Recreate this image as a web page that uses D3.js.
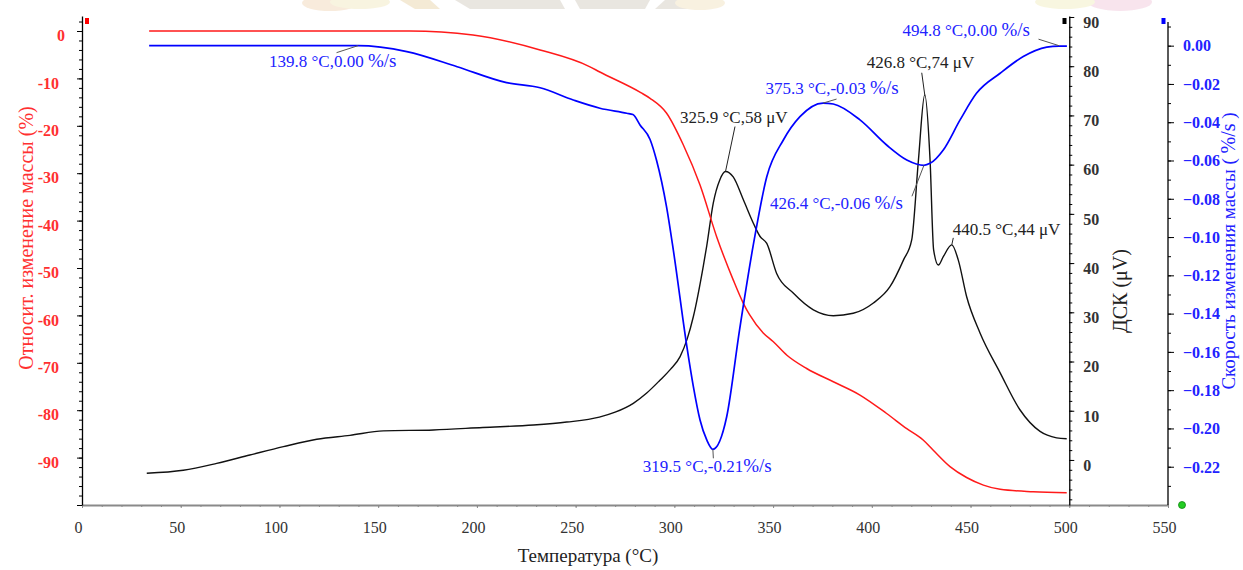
<!DOCTYPE html>
<html><head><meta charset="utf-8">
<script src="https://cdn.jsdelivr.net/npm/d3@7"></script>
<style>
body{margin:0;background:#fff;}
svg{display:block;font-family:"Liberation Serif","Times New Roman",serif;}
</style>
</head><body>
<svg id="c" width="1243" height="570"></svg>
<script>
// ---------- data ----------
const massT = [34, 100, 166, 198, 232, 257, 262, 283, 287.7, 296, 304.5, 313, 321.5, 329.8, 335, 338, 345, 350, 357, 367, 380.5, 394, 407.5, 417.7, 426, 431, 439.6, 448, 456.5, 465, 481.7, 498.7];
const massV = [0, 0, 0, -0.85, -4, -7.5, -8.6, -13, -14.2, -17.3, -24.0, -32.5, -43.5, -52.5, -57.5, -59.8, -63.7, -65.5, -68.4, -71.2, -74, -76.8, -80.7, -83.9, -86.3, -88.4, -91.9, -94.2, -95.8, -96.7, -97.2, -97.4];

const rateT = [34, 100, 139.8, 164.5, 190, 215, 232, 248.8, 262.3, 275.9, 279, 282.6, 287.7, 291, 296, 299.5, 306.3, 309.6, 313, 316.4, 319.5, 326.5, 333, 340, 346.8, 355.2, 363.6, 375.3, 380.5, 394, 407.5, 417.7, 426.4, 429.5, 436.2, 444.7, 453, 465, 476.7, 488.6, 494.8, 498.8];
const rateV = [0, 0, 0, -0.0031, -0.011, -0.0193, -0.022, -0.0284, -0.0327, -0.0353, -0.036, -0.0414, -0.049, -0.06, -0.084, -0.107, -0.157, -0.178, -0.1956, -0.206, -0.2109, -0.1939, -0.1486, -0.104, -0.0685, -0.0493, -0.0371, -0.0300, -0.0305, -0.0388, -0.0519, -0.0597, -0.0625, -0.0615, -0.0545, -0.0388, -0.0249, -0.0144, -0.0057, -0.0008, -0.0002, -0.0002];

const dscT = [32.8, 51.3, 68.2, 85, 102, 118.9, 135.7, 152.6, 178, 203, 228.6, 245.5, 262, 270, 279.2, 286, 292.7, 298, 302.9, 306.5, 309.6, 314.7, 316.4, 319.7, 323, 325.9, 329.8, 335, 340, 343.4, 346.8, 351.8, 360.2, 370.4, 380.5, 390.6, 400.8, 409.2, 416, 420.2, 423.6, 426.8, 429.5, 431.3, 433.7, 436.2, 440.5, 443.8, 448, 454.8, 465, 475, 485.2, 493.6, 498.7];
const dscV = [-2.7, -2.1, -0.7, 1.0, 2.7, 4.2, 5.0, 5.9, 6.1, 6.6, 7.1, 7.7, 8.7, 9.7, 11.5, 13.6, 16.2, 18.4, 21.0, 24.6, 29.1, 39.5, 43.5, 52.2, 56.9, 58.6, 57.5, 52.8, 48.1, 45.4, 44.0, 37.9, 33.9, 30.5, 29.3, 29.8, 31.9, 35.2, 40.6, 44.7, 60.9, 74.2, 60.9, 42.7, 39.6, 41.3, 43.7, 40.6, 33.2, 25.8, 17.7, 10.2, 5.8, 4.5, 4.3];

const xTicks = [0, 50, 100, 150, 200, 250, 300, 350, 400, 450, 500, 550];
const massTicks = [0, -10, -20, -30, -40, -50, -60, -70, -80, -90, -100];
const dscTicks = [0, 10, 20, 30, 40, 50, 60, 70, 80, 90];
const rateTicks = [0, -0.02, -0.04, -0.06, -0.08, -0.10, -0.12, -0.14, -0.16, -0.18, -0.20, -0.22];

const annLabels = ["139.8 °C,0.00 ", "325.9 °C,58 μV", "375.3 °C,-0.03 ", "426.8 °C,74 μV", "426.4 °C,-0.06 ", "494.8 °C,0.00 ", "440.5 °C,44 μV", "319.5 °C,-0.21"];
const annSeries = ["rate", "dsc", "rate", "dsc", "rate", "rate", "dsc", "rate"];
const annT = [139.8, 325.9, 375.3, 426.8, 426.4, 494.8, 440.5, 319.5];
const annV = [0.00, 58.6, -0.03, 74.2, -0.0625, 0.00, 43.7, -0.2109];

// ---------- layout ----------
const svg = d3.select("#c");
const pTop = 16, pBottom = 505, pLeft = 82, pRight = 1168;
const x = d3.scaleLinear().domain([0, 550]).range([pLeft, pRight]);
const yM = d3.scaleLinear().domain([-100, 3.165]).range([pBottom, pTop]);
const yD = d3.scaleLinear().domain([-9.15, 90.2]).range([pBottom, pTop]);
const yR = d3.scaleLinear().domain([-0.24, 0.0155]).range([pBottom, pTop]);
const xDsc = x(500);

const RED = "#ff1a1a", BLUE = "#0000ff", BLUE_T = "#2222ff", BLACK = "#111";

// faint watermark band at the top
const wm = svg.append("g").attr("opacity", 0.55);
wm.append("ellipse").attr("cx", 330).attr("cy", 3).attr("rx", 28).attr("ry", 8).attr("fill", "#f3dcc0");
wm.append("ellipse").attr("cx", 360).attr("cy", 2).attr("rx", 30).attr("ry", 7).attr("fill", "#f4ecc8");
wm.append("polygon").attr("points", "400,0 430,0 440,9 415,9").attr("fill", "#ecd9b4");
wm.append("polygon").attr("points", "455,0 560,0 565,9 470,9").attr("fill", "#d8d2c8");
wm.append("polygon").attr("points", "575,0 650,0 645,9 580,9").attr("fill", "#d8d2c8");
wm.append("polygon").attr("points", "665,0 700,0 690,9 655,9").attr("fill", "#d8d2c8");
wm.append("ellipse").attr("cx", 700).attr("cy", 3).attr("rx", 25).attr("ry", 7).attr("fill", "#f4e6c8");
wm.append("ellipse").attr("cx", 1120).attr("cy", 2).attr("rx", 32).attr("ry", 9).attr("fill", "#f3cfe0");
wm.append("ellipse").attr("cx", 1065).attr("cy", 2).attr("rx", 30).attr("ry", 7).attr("fill", "#f4f0c8");

// ---------- axes ----------
function styleAxis(g, color) {
  g.select(".domain").attr("stroke", color).attr("stroke-width", 1.3);
  g.selectAll(".tick line").attr("stroke", color).attr("stroke-width", 1);
}

// bottom axis
const gxMinor = svg.append("g").attr("transform", `translate(0,${pBottom})`)
  .call(d3.axisBottom(x).tickValues(d3.range(0, 551, 10)).tickSize(2).tickSizeOuter(0).tickFormat(""));
styleAxis(gxMinor, "#8a8a8a");
gxMinor.select(".domain").attr("stroke-width", 2);
const gx = svg.append("g").attr("transform", `translate(0,${pBottom})`)
  .call(d3.axisBottom(x).tickValues(xTicks).tickSize(3).tickSizeOuter(0));
styleAxis(gx, "#8a8a8a");
gx.select(".domain").remove();
gx.selectAll("text").attr("font-size", 16).attr("fill", "#333").attr("y", 22.5).attr("dy", "0.35em").attr("dx", -4)
  .attr("font-family", "Liberation Serif");

// left (mass) axis
const gmMinor = svg.append("g").attr("transform", `translate(${pLeft},0)`)
  .call(d3.axisLeft(yM).tickValues(d3.range(-100, 3, 2)).tickSize(3).tickSizeOuter(0).tickFormat(""));
styleAxis(gmMinor, "#000");
const gm = svg.append("g").attr("transform", `translate(${pLeft},0)`)
  .call(d3.axisLeft(yM).tickValues(massTicks).tickSize(5).tickPadding(18).tickFormat(d => d === -100 ? "" : d));
styleAxis(gm, "#000");
gm.select(".domain").remove();
gm.selectAll("text").attr("font-size", 16).attr("font-weight", "bold").attr("fill", "#ff3030")
  .attr("y", 4.5).attr("dy", "0.33em").attr("dx", d => d === 0 ? 6 : 0).attr("font-family", "Liberation Serif");

// DSC axis
const gdMinor = svg.append("g").attr("transform", `translate(${xDsc},0)`)
  .call(d3.axisRight(yD).tickValues(d3.range(-8, 91, 2)).tickSize(3).tickSizeOuter(0).tickFormat(""));
styleAxis(gdMinor, "#000");
const gd = svg.append("g").attr("transform", `translate(${xDsc},0)`)
  .call(d3.axisRight(yD).tickValues(dscTicks).tickSize(5).tickPadding(9));
styleAxis(gd, "#000");
gd.select(".domain").remove();
gd.selectAll("text").attr("font-size", 16).attr("font-weight", "bold").attr("fill", "#333")
  .attr("y", 5).attr("dy", "0.33em").attr("font-family", "Liberation Serif");

// rate axis
const gbMinor = svg.append("g").attr("transform", `translate(${pRight},0)`)
  .call(d3.axisRight(yR).tickValues(d3.range(-23, 2, 1).map(v => v / 100)).tickSize(3).tickSizeOuter(0).tickFormat(""));
styleAxis(gbMinor, "#000");
gbMinor.select(".domain").attr("d", `M0,22V${pBottom}`);
const gb = svg.append("g").attr("transform", `translate(${pRight},0)`)
  .call(d3.axisRight(yR).tickValues(rateTicks).tickSize(6).tickPadding(9).tickFormat(d3.format(".2f")));
styleAxis(gb, "#000");
gb.select(".domain").remove();
gb.selectAll("text").attr("font-size", 16).attr("font-weight", "bold").attr("fill", BLUE_T)
  .attr("dy", "0.33em").attr("font-family", "Liberation Serif");

// ---------- series ----------
const curve = d3.curveMonotoneX;
const mkLine = (ys) => d3.line().x(d => x(d[0])).y(d => ys(d[1])).curve(curve);
svg.append("path").datum(dscT.map((t, i) => [t, dscV[i]]))
  .attr("d", mkLine(yD)).attr("fill", "none").attr("stroke", BLACK).attr("stroke-width", 1.4);
svg.append("path").datum(massT.map((t, i) => [t, massV[i]]))
  .attr("d", mkLine(yM)).attr("fill", "none").attr("stroke", RED).attr("stroke-width", 1.5);
svg.append("path").datum(rateT.map((t, i) => [t, rateV[i]]))
  .attr("d", mkLine(yR)).attr("fill", "none").attr("stroke", BLUE).attr("stroke-width", 1.7);

// ---------- annotations ----------
const annLayout = [
  {lx: -21.5, ly: 7, tx: -89, ty: 21},
  {lx: 9.5, ly: -45, tx: -45.5, ty: -49},
  {lx: 13.5, ly: -4, tx: -57.5, ty: -9},
  {lx: -3, ly: -22, tx: -58, ty: -27},
  {lx: -12, ly: 31, tx: -154, ty: 43.5},
  {lx: -20.5, ly: -6.5, tx: -156.5, ty: -10},
  {lx: 1.5, ly: -7, tx: 1, ty: -10},
  {lx: 0.5, ly: 9, tx: -70, ty: 23}
];
const yFor = {rate: yR, dsc: yD, mass: yM};
const ann = svg.append("g");
annLabels.forEach((lab, i) => {
  const ax = x(annT[i]), ay = yFor[annSeries[i]](annV[i]);
  const L = annLayout[i];
  const isRate = annSeries[i] === "rate";
  ann.append("line").attr("x1", ax + L.lx).attr("y1", ay + L.ly).attr("x2", ax).attr("y2", ay)
    .attr("stroke", isRate ? "#555" : "#222").attr("stroke-width", 1);
  const t = ann.append("text").attr("x", ax + L.tx).attr("y", ay + L.ty)
    .attr("font-size", 17).attr("fill", isRate ? BLUE_T : "#222");
  t.append("tspan").text(lab);
  if (isRate) t.append("tspan").attr("font-size", 19).text("%/s");
});

// ---------- titles ----------
svg.append("text").attr("transform", "translate(33,238) rotate(-90)").attr("text-anchor", "middle")
  .attr("font-size", 20).attr("fill", "#ff3030").text("Относит. изменение массы (%)");
svg.append("text").attr("transform", "translate(1127,291) rotate(-90)").attr("text-anchor", "middle")
  .attr("font-size", 20).attr("fill", "#222").text("ДСК (μV)");
const bt = svg.append("text").attr("transform", "translate(1235,251) rotate(-90)").attr("text-anchor", "middle")
  .attr("font-size", 19).attr("fill", BLUE_T);
bt.append("tspan").text("Скорость изменения массы ( ");
bt.append("tspan").attr("font-size", 20).text("%/s");
bt.append("tspan").text(" )");
svg.append("text").attr("x", 588).attr("y", 562).attr("text-anchor", "middle")
  .attr("font-size", 19).attr("fill", "#222").text("Температура (°C)");

// ---------- corner markers ----------
svg.append("rect").attr("x", 85).attr("y", 18).attr("width", 4).attr("height", 6).attr("fill", "#ff0000");
svg.append("rect").attr("x", 1062.5).attr("y", 18).attr("width", 4).attr("height", 6).attr("fill", "#000");
svg.append("rect").attr("x", 1161.5).attr("y", 18).attr("width", 4).attr("height", 6).attr("fill", "#0000ff");
svg.append("circle").attr("cx", 1182).attr("cy", pBottom).attr("r", 3.5).attr("fill", "#22cc22").attr("stroke", "#118811").attr("stroke-width", 0.8);
</script>
</body></html>
